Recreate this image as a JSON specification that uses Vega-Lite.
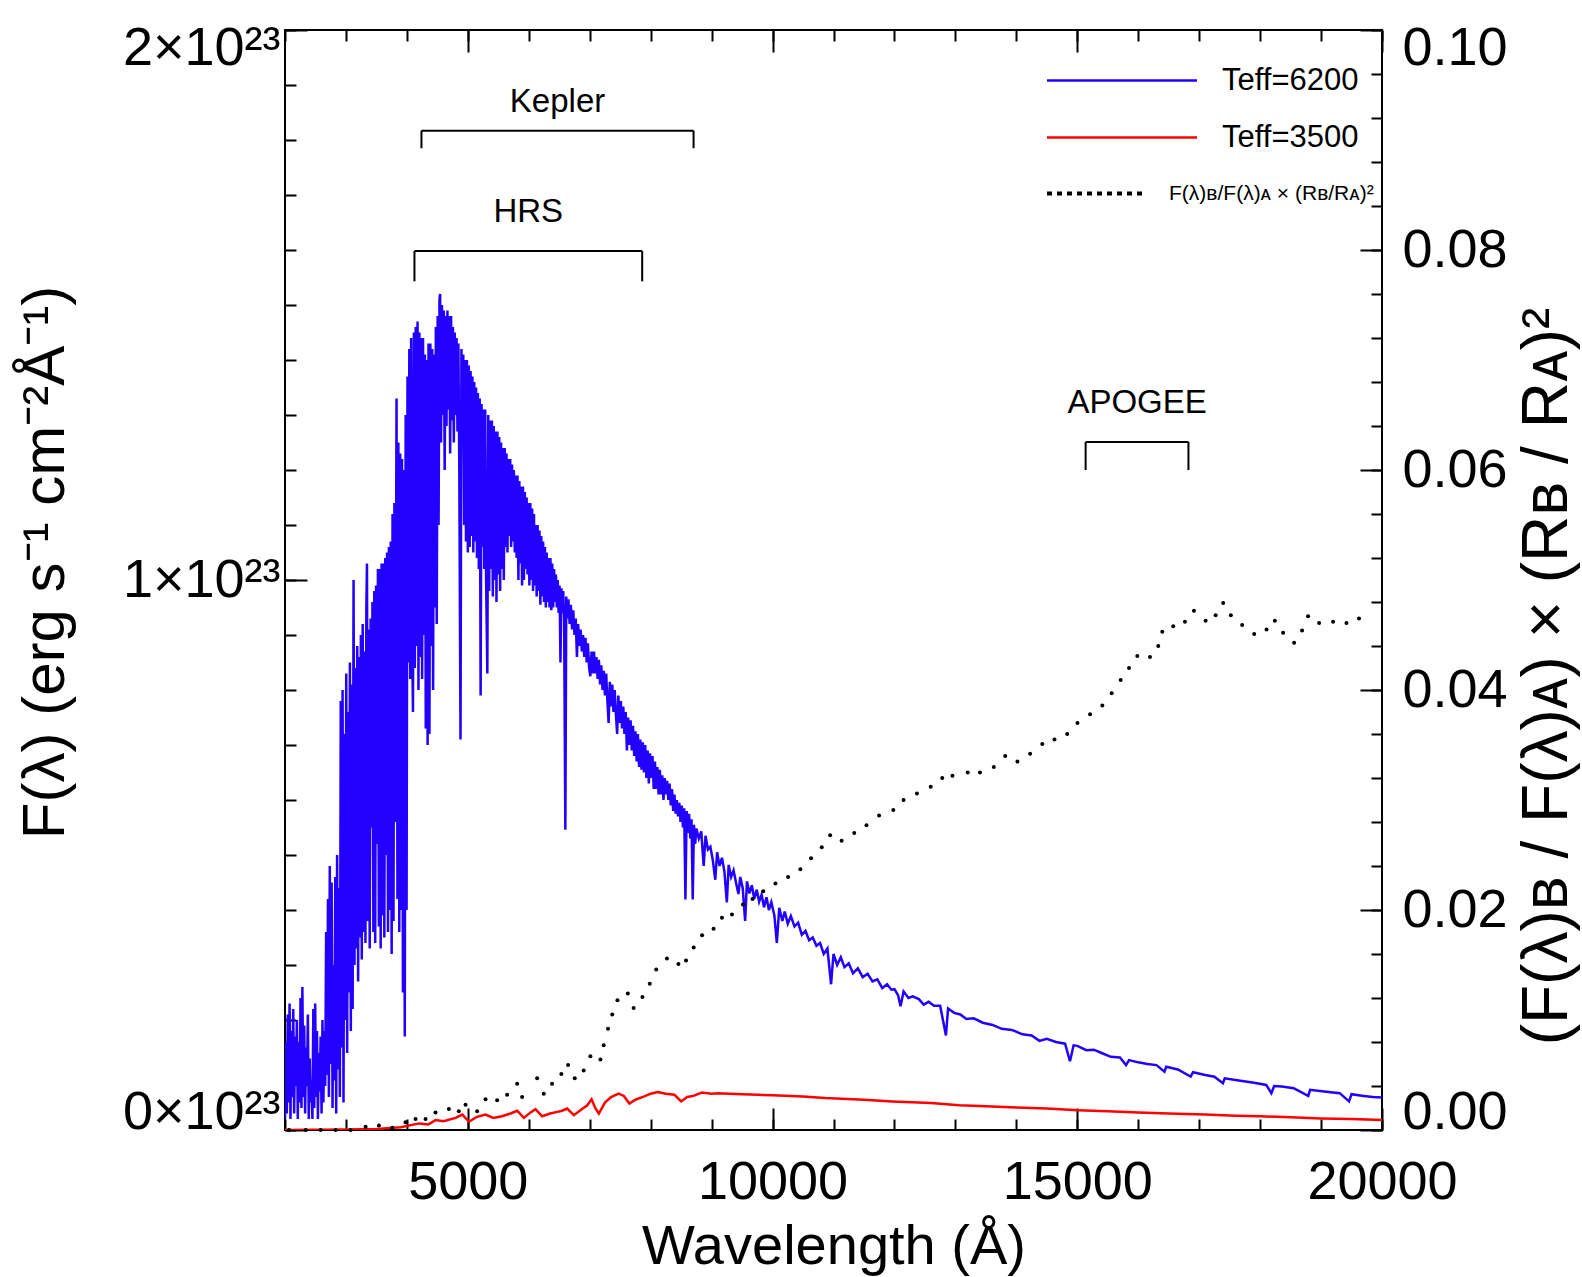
{
  "$schema": "https://vega.github.io/schema/vega-lite/v6.json",
  "width": 1097,
  "height": 1100,
  "autosize": {"type": "none"},
  "padding": {"left": 285, "top": 30, "right": 200, "bottom": 147},
  "config": {
    "view": {"stroke": "black", "strokeWidth": 2},
    "font": "Liberation Sans",
    "axis": {"domain": false, "grid": false, "tickColor": "black", "tickWidth": 2, "labelColor": "black", "titleColor": "black", "labelFont": "Liberation Sans", "titleFont": "Liberation Sans", "titleFontWeight": "normal", "labelFontSize": 54, "titleFontSize": 56}
  },
  "datasets": {
    "hot": [
      {"w":2000,"f":0.02},{"w":2010,"f":0.16},{"w":2030,"f":0.03},{"w":2045,"f":0.21},{"w":2060,"f":0.05},{"w":2075,"f":0.23},{"w":2090,"f":0.02},{"w":2105,"f":0.18},{"w":2120,"f":0.06},{"w":2135,"f":0.22},{"w":2150,"f":0.03},{"w":2165,"f":0.17},{"w":2180,"f":0.08},{"w":2195,"f":0.2},{"w":2210,"f":0.02},{"w":2225,"f":0.16},{"w":2240,"f":0.05},{"w":2255,"f":0.24},{"w":2270,"f":0.04},{"w":2285,"f":0.26},{"w":2300,"f":0.06},{"w":2315,"f":0.19},{"w":2330,"f":0.03},{"w":2345,"f":0.15},{"w":2360,"f":0.08},{"w":2375,"f":0.21},{"w":2390,"f":0.02},{"w":2405,"f":0.13},{"w":2420,"f":0.05},{"w":2435,"f":0.09},{"w":2450,"f":0.02},{"w":2465,"f":0.22},{"w":2480,"f":0.04},{"w":2495,"f":0.23},{"w":2510,"f":0.06},{"w":2525,"f":0.18},{"w":2540,"f":0.02},{"w":2555,"f":0.14},{"w":2570,"f":0.07},{"w":2585,"f":0.17},{"w":2600,"f":0.03},{"w":2615,"f":0.2},{"w":2630,"f":0.05},{"w":2645,"f":0.18},{"w":2660,"f":0.08},{"w":2675,"f":0.36},{"w":2690,"f":0.1},{"w":2705,"f":0.42},{"w":2720,"f":0.06},{"w":2735,"f":0.48},{"w":2750,"f":0.12},{"w":2765,"f":0.45},{"w":2780,"f":0.04},{"w":2795,"f":0.3},{"w":2810,"f":0.09},{"w":2825,"f":0.46},{"w":2840,"f":0.03},{"w":2855,"f":0.5},{"w":2870,"f":0.11},{"w":2885,"f":0.44},{"w":2900,"f":0.06},{"w":2915,"f":0.78},{"w":2930,"f":0.15},{"w":2945,"f":0.8},{"w":2960,"f":0.05},{"w":2975,"f":0.72},{"w":2990,"f":0.2},{"w":3005,"f":0.83},{"w":3020,"f":0.14},{"w":3035,"f":0.76},{"w":3050,"f":0.25},{"w":3065,"f":0.85},{"w":3080,"f":0.18},{"w":3095,"f":0.81},{"w":3110,"f":0.22},{"w":3125,"f":1.0},{"w":3140,"f":0.3},{"w":3155,"f":0.84},{"w":3170,"f":0.33},{"w":3185,"f":0.88},{"w":3200,"f":0.27},{"w":3215,"f":0.86},{"w":3230,"f":0.35},{"w":3245,"f":0.9},{"w":3260,"f":0.31},{"w":3275,"f":0.92},{"w":3290,"f":0.36},{"w":3305,"f":0.87},{"w":3320,"f":0.34},{"w":3335,"f":0.95},{"w":3345,"f":1.03},{"w":3360,"f":0.38},{"w":3375,"f":0.91},{"w":3390,"f":0.33},{"w":3405,"f":0.93},{"w":3420,"f":0.55},{"w":3435,"f":0.96},{"w":3450,"f":0.36},{"w":3465,"f":0.98},{"w":3480,"f":0.34},{"w":3495,"f":0.99},{"w":3510,"f":0.52},{"w":3525,"f":1.02},{"w":3540,"f":0.37},{"w":3555,"f":1.02},{"w":3570,"f":0.33},{"w":3585,"f":1.03},{"w":3600,"f":0.39},{"w":3615,"f":1.03},{"w":3630,"f":0.35},{"w":3645,"f":1.04},{"w":3660,"f":0.5},{"w":3675,"f":1.05},{"w":3690,"f":0.36},{"w":3705,"f":1.06},{"w":3720,"f":0.4},{"w":3735,"f":1.07},{"w":3750,"f":0.32},{"w":3765,"f":1.12},{"w":3780,"f":0.38},{"w":3795,"f":1.14},{"w":3810,"f":0.56},{"w":3830,"f":1.33},{"w":3845,"f":0.42},{"w":3860,"f":1.25},{"w":3875,"f":0.36},{"w":3890,"f":1.23},{"w":3905,"f":0.4},{"w":3920,"f":1.22},{"w":3935,"f":0.25},{"w":3950,"f":1.2},{"w":3965,"f":0.17},{"w":3980,"f":1.3},{"w":3995,"f":0.4},{"w":4010,"f":1.37},{"w":4025,"f":0.85},{"w":4040,"f":1.42},{"w":4055,"f":0.82},{"w":4070,"f":1.44},{"w":4085,"f":0.9},{"w":4100,"f":0.76},{"w":4115,"f":1.45},{"w":4130,"f":0.84},{"w":4145,"f":1.46},{"w":4160,"f":0.88},{"w":4175,"f":1.47},{"w":4190,"f":0.8},{"w":4205,"f":1.45},{"w":4220,"f":0.86},{"w":4235,"f":1.44},{"w":4250,"f":0.82},{"w":4265,"f":1.44},{"w":4280,"f":0.9},{"w":4295,"f":1.41},{"w":4310,"f":0.73},{"w":4325,"f":1.4},{"w":4340,"f":0.7},{"w":4355,"f":1.43},{"w":4370,"f":0.72},{"w":4385,"f":1.43},{"w":4400,"f":0.88},{"w":4415,"f":1.42},{"w":4430,"f":0.8},{"w":4445,"f":1.41},{"w":4460,"f":0.95},{"w":4475,"f":1.46},{"w":4490,"f":0.92},{"w":4505,"f":1.48},{"w":4520,"f":1.1},{"w":4535,"f":1.51},{"w":4545,"f":1.52},{"w":4560,"f":1.25},{"w":4575,"f":1.5},{"w":4590,"f":1.3},{"w":4605,"f":1.49},{"w":4620,"f":1.2},{"w":4635,"f":1.48},{"w":4650,"f":1.28},{"w":4665,"f":1.49},{"w":4680,"f":1.31},{"w":4695,"f":1.48},{"w":4710,"f":1.23},{"w":4725,"f":1.48},{"w":4740,"f":1.29},{"w":4755,"f":1.46},{"w":4770,"f":1.25},{"w":4785,"f":1.45},{"w":4800,"f":1.3},{"w":4815,"f":1.44},{"w":4830,"f":1.27},{"w":4845,"f":1.43},{"w":4860,"f":1.2},{"w":4880,"f":0.71},{"w":4895,"f":1.42},{"w":4910,"f":1.25},{"w":4925,"f":1.41},{"w":4940,"f":1.1},{"w":4955,"f":1.4},{"w":4970,"f":1.07},{"w":4985,"f":1.4},{"w":5000,"f":1.05},{"w":5015,"f":1.39},{"w":5030,"f":1.06},{"w":5045,"f":1.38},{"w":5060,"f":1.08},{"w":5075,"f":1.37},{"w":5090,"f":1.05},{"w":5105,"f":1.36},{"w":5120,"f":1.07},{"w":5135,"f":1.35},{"w":5150,"f":1.04},{"w":5165,"f":1.34},{"w":5180,"f":1.02},{"w":5195,"f":1.33},{"w":5210,"f":0.79},{"w":5225,"f":1.32},{"w":5240,"f":1.06},{"w":5255,"f":1.31},{"w":5270,"f":1.02},{"w":5285,"f":1.31},{"w":5300,"f":1.0},{"w":5320,"f":0.83},{"w":5335,"f":1.3},{"w":5350,"f":0.98},{"w":5365,"f":1.29},{"w":5380,"f":1.02},{"w":5395,"f":1.29},{"w":5410,"f":0.97},{"w":5425,"f":1.28},{"w":5440,"f":1.0},{"w":5455,"f":1.27},{"w":5470,"f":0.96},{"w":5485,"f":1.27},{"w":5500,"f":1.01},{"w":5515,"f":1.26},{"w":5530,"f":0.98},{"w":5545,"f":1.25},{"w":5560,"f":1.02},{"w":5575,"f":1.24},{"w":5590,"f":1.0},{"w":5605,"f":1.24},{"w":5620,"f":1.06},{"w":5635,"f":1.23},{"w":5650,"f":1.05},{"w":5665,"f":1.22},{"w":5680,"f":1.08},{"w":5695,"f":1.22},{"w":5710,"f":1.06},{"w":5725,"f":1.21},{"w":5740,"f":1.07},{"w":5755,"f":1.2},{"w":5770,"f":1.05},{"w":5785,"f":1.19},{"w":5800,"f":1.04},{"w":5815,"f":1.19},{"w":5830,"f":1.0},{"w":5845,"f":1.18},{"w":5860,"f":1.03},{"w":5875,"f":1.17},{"w":5890,"f":0.99},{"w":5905,"f":1.17},{"w":5920,"f":1.0},{"w":5935,"f":1.16},{"w":5950,"f":1.02},{"w":5965,"f":1.15},{"w":5980,"f":1.01},{"w":5995,"f":1.14},{"w":6010,"f":0.99},{"w":6025,"f":1.14},{"w":6040,"f":1.0},{"w":6055,"f":1.13},{"w":6070,"f":0.98},{"w":6085,"f":1.12},{"w":6100,"f":0.99},{"w":6115,"f":1.1},{"w":6130,"f":0.97},{"w":6145,"f":1.1},{"w":6160,"f":0.98},{"w":6175,"f":1.09},{"w":6190,"f":0.955},{"w":6205,"f":1.08},{"w":6220,"f":0.97},{"w":6235,"f":1.07},{"w":6250,"f":0.96},{"w":6265,"f":1.06},{"w":6280,"f":0.95},{"w":6295,"f":1.05},{"w":6310,"f":0.96},{"w":6325,"f":1.04},{"w":6340,"f":0.95},{"w":6355,"f":1.04},{"w":6370,"f":0.945},{"w":6385,"f":1.03},{"w":6400,"f":0.95},{"w":6415,"f":1.02},{"w":6430,"f":0.96},{"w":6445,"f":1.01},{"w":6460,"f":0.95},{"w":6475,"f":1.0},{"w":6490,"f":0.94},{"w":6505,"f":0.99},{"w":6520,"f":0.85},{"w":6535,"f":0.985},{"w":6550,"f":0.94},{"w":6565,"f":0.98},{"w":6580,"f":0.93},{"w":6600,"f":0.546},{"w":6615,"f":0.97},{"w":6630,"f":0.93},{"w":6650,"f":0.965},{"w":6670,"f":0.92},{"w":6690,"f":0.955},{"w":6710,"f":0.91},{"w":6730,"f":0.945},{"w":6750,"f":0.9},{"w":6770,"f":0.93},{"w":6790,"f":0.86},{"w":6810,"f":0.92},{"w":6830,"f":0.88},{"w":6850,"f":0.91},{"w":6870,"f":0.87},{"w":6890,"f":0.9},{"w":6910,"f":0.86},{"w":6930,"f":0.895},{"w":6950,"f":0.85},{"w":6970,"f":0.885},{"w":6990,"f":0.84},{"w":7010,"f":0.825},{"w":7030,"f":0.87},{"w":7050,"f":0.83},{"w":7070,"f":0.87},{"w":7090,"f":0.83},{"w":7110,"f":0.86},{"w":7130,"f":0.82},{"w":7150,"f":0.855},{"w":7170,"f":0.81},{"w":7190,"f":0.845},{"w":7210,"f":0.8},{"w":7230,"f":0.835},{"w":7250,"f":0.79},{"w":7270,"f":0.83},{"w":7290,"f":0.78},{"w":7310,"f":0.74},{"w":7330,"f":0.815},{"w":7350,"f":0.77},{"w":7370,"f":0.81},{"w":7390,"f":0.76},{"w":7410,"f":0.8},{"w":7430,"f":0.755},{"w":7450,"f":0.72},{"w":7470,"f":0.79},{"w":7490,"f":0.74},{"w":7510,"f":0.78},{"w":7530,"f":0.73},{"w":7550,"f":0.77},{"w":7570,"f":0.72},{"w":7590,"f":0.76},{"w":7610,"f":0.69},{"w":7630,"f":0.75},{"w":7650,"f":0.7},{"w":7670,"f":0.745},{"w":7690,"f":0.69},{"w":7710,"f":0.735},{"w":7730,"f":0.68},{"w":7750,"f":0.725},{"w":7770,"f":0.67},{"w":7790,"f":0.72},{"w":7810,"f":0.66},{"w":7830,"f":0.71},{"w":7850,"f":0.655},{"w":7870,"f":0.705},{"w":7890,"f":0.65},{"w":7910,"f":0.7},{"w":7930,"f":0.64},{"w":7950,"f":0.69},{"w":7970,"f":0.63},{"w":7990,"f":0.685},{"w":8010,"f":0.64},{"w":8030,"f":0.68},{"w":8050,"f":0.62},{"w":8070,"f":0.67},{"w":8090,"f":0.62},{"w":8110,"f":0.66},{"w":8130,"f":0.61},{"w":8150,"f":0.655},{"w":8170,"f":0.61},{"w":8190,"f":0.645},{"w":8210,"f":0.6},{"w":8230,"f":0.64},{"w":8250,"f":0.61},{"w":8270,"f":0.635},{"w":8290,"f":0.6},{"w":8310,"f":0.63},{"w":8330,"f":0.59},{"w":8350,"f":0.62},{"w":8370,"f":0.58},{"w":8390,"f":0.61},{"w":8410,"f":0.575},{"w":8430,"f":0.6},{"w":8450,"f":0.57},{"w":8470,"f":0.595},{"w":8490,"f":0.56},{"w":8510,"f":0.59},{"w":8530,"f":0.55},{"w":8550,"f":0.585},{"w":8570,"f":0.419},{"w":8590,"f":0.58},{"w":8610,"f":0.54},{"w":8630,"f":0.575},{"w":8650,"f":0.53},{"w":8670,"f":0.565},{"w":8690,"f":0.419},{"w":8710,"f":0.555},{"w":8730,"f":0.52},{"w":8750,"f":0.548},{"w":8790,"f":0.53},{"w":8830,"f":0.543},{"w":8870,"f":0.48},{"w":8900,"f":0.535},{"w":8940,"f":0.51},{"w":8980,"f":0.515},{"w":9020,"f":0.49},{"w":9060,"f":0.455},{"w":9090,"f":0.505},{"w":9130,"f":0.48},{"w":9170,"f":0.495},{"w":9210,"f":0.47},{"w":9250,"f":0.414},{"w":9280,"f":0.482},{"w":9320,"f":0.46},{"w":9360,"f":0.472},{"w":9400,"f":0.45},{"w":9440,"f":0.429},{"w":9470,"f":0.46},{"w":9510,"f":0.44},{"w":9550,"f":0.38},{"w":9580,"f":0.452},{"w":9620,"f":0.43},{"w":9660,"f":0.445},{"w":9700,"f":0.42},{"w":9740,"f":0.437},{"w":9780,"f":0.415},{"w":9820,"f":0.428},{"w":9860,"f":0.405},{"w":9900,"f":0.423},{"w":9940,"f":0.4},{"w":9980,"f":0.414},{"w":10030,"f":0.39},{"w":10070,"f":0.34},{"w":10110,"f":0.404},{"w":10160,"f":0.38},{"w":10200,"f":0.397},{"w":10250,"f":0.375},{"w":10300,"f":0.389},{"w":10360,"f":0.37},{"w":10420,"f":0.377},{"w":10480,"f":0.355},{"w":10540,"f":0.362},{"w":10600,"f":0.345},{"w":10660,"f":0.35},{"w":10720,"f":0.335},{"w":10780,"f":0.34},{"w":10840,"f":0.32},{"w":10900,"f":0.33},{"w":10960,"f":0.265},{"w":11000,"f":0.32},{"w":11060,"f":0.3},{"w":11120,"f":0.314},{"w":11180,"f":0.296},{"w":11250,"f":0.303},{"w":11320,"f":0.285},{"w":11400,"f":0.294},{"w":11480,"f":0.278},{"w":11560,"f":0.284},{"w":11640,"f":0.27},{"w":11720,"f":0.274},{"w":11800,"f":0.258},{"w":11880,"f":0.265},{"w":11950,"f":0.255},{"w":12000,"f":0.256},{"w":12060,"f":0.245},{"w":12100,"f":0.225},{"w":12150,"f":0.252},{"w":12230,"f":0.24},{"w":12300,"f":0.243},{"w":12400,"f":0.238},{"w":12480,"f":0.228},{"w":12560,"f":0.233},{"w":12650,"f":0.226},{"w":12750,"f":0.226},{"w":12845,"f":0.172},{"w":12880,"f":0.221},{"w":12980,"f":0.213},{"w":13080,"f":0.21},{"w":13180,"f":0.202},{"w":13300,"f":0.203},{"w":13450,"f":0.195},{"w":13610,"f":0.191},{"w":13760,"f":0.184},{"w":13925,"f":0.182},{"w":14100,"f":0.174},{"w":14250,"f":0.172},{"w":14380,"f":0.162},{"w":14500,"f":0.166},{"w":14650,"f":0.16},{"w":14800,"f":0.157},{"w":14880,"f":0.125},{"w":14940,"f":0.154},{"w":15000,"f":0.153},{"w":15150,"f":0.145},{"w":15270,"f":0.146},{"w":15400,"f":0.14},{"w":15550,"f":0.133},{"w":15700,"f":0.132},{"w":15800,"f":0.118},{"w":15850,"f":0.127},{"w":16000,"f":0.123},{"w":16150,"f":0.12},{"w":16300,"f":0.118},{"w":16430,"f":0.106},{"w":16460,"f":0.115},{"w":16650,"f":0.11},{"w":16860,"f":0.097},{"w":16900,"f":0.105},{"w":17100,"f":0.1},{"w":17250,"f":0.097},{"w":17390,"f":0.085},{"w":17420,"f":0.094},{"w":17650,"f":0.09},{"w":17900,"f":0.086},{"w":18100,"f":0.082},{"w":18185,"f":0.067},{"w":18230,"f":0.08},{"w":18356,"f":0.079},{"w":18550,"f":0.076},{"w":18790,"f":0.062},{"w":18820,"f":0.073},{"w":19050,"f":0.07},{"w":19306,"f":0.067},{"w":19459,"f":0.052},{"w":19500,"f":0.065},{"w":19700,"f":0.062},{"w":19850,"f":0.06},{"w":20000,"f":0.059}
    ],
    "cool": [
      {"w":2000,"f":0.0},{"w":2500,"f":0.0005},{"w":3000,"f":0.001},{"w":3500,"f":0.002},{"w":3900,"f":0.005},{"w":4200,"f":0.012},{"w":4350,"f":0.01},{"w":4470,"f":0.018},{"w":4600,"f":0.016},{"w":4800,"f":0.022},{"w":4910,"f":0.028},{"w":5020,"f":0.015},{"w":5150,"f":0.024},{"w":5290,"f":0.028},{"w":5420,"f":0.022},{"w":5560,"f":0.025},{"w":5700,"f":0.03},{"w":5810,"f":0.035},{"w":5920,"f":0.022},{"w":6030,"f":0.032},{"w":6110,"f":0.038},{"w":6220,"f":0.025},{"w":6350,"f":0.03},{"w":6470,"f":0.033},{"w":6546,"f":0.035},{"w":6630,"f":0.039},{"w":6740,"f":0.027},{"w":6874,"f":0.038},{"w":6960,"f":0.045},{"w":7030,"f":0.056},{"w":7090,"f":0.04},{"w":7150,"f":0.03},{"w":7250,"f":0.05},{"w":7350,"f":0.06},{"w":7475,"f":0.066},{"w":7560,"f":0.062},{"w":7650,"f":0.048},{"w":7750,"f":0.055},{"w":7895,"f":0.061},{"w":8000,"f":0.066},{"w":8115,"f":0.069},{"w":8250,"f":0.066},{"w":8390,"f":0.064},{"w":8500,"f":0.052},{"w":8600,"f":0.06},{"w":8700,"f":0.062},{"w":8840,"f":0.068},{"w":9000,"f":0.066},{"w":9104,"f":0.067},{"w":9300,"f":0.066},{"w":9500,"f":0.065},{"w":9764,"f":0.064},{"w":10000,"f":0.063},{"w":10500,"f":0.061},{"w":10863,"f":0.058},{"w":11500,"f":0.055},{"w":11962,"f":0.052},{"w":12600,"f":0.049},{"w":13061,"f":0.045},{"w":13500,"f":0.043},{"w":14000,"f":0.041},{"w":14500,"f":0.039},{"w":15011,"f":0.036},{"w":15500,"f":0.034},{"w":16000,"f":0.032},{"w":16500,"f":0.03},{"w":17091,"f":0.028},{"w":17600,"f":0.026},{"w":18000,"f":0.025},{"w":18500,"f":0.023},{"w":19000,"f":0.021},{"w":19500,"f":0.02},{"w":20000,"f":0.018}
    ],
    "ratio": [
      {"w":2066,"r":0.0},{"w":2339,"r":0.0},{"w":2585,"r":0.0},{"w":2831,"r":0.0},{"w":3077,"r":0.0},{"w":3323,"r":0.0003},{"w":3541,"r":0.0004},{"w":3760,"r":0.0002},{"w":3978,"r":0.0007},{"w":4142,"r":0.001},{"w":4306,"r":0.001},{"w":4470,"r":0.0016},{"w":4689,"r":0.0019},{"w":4852,"r":0.0017},{"w":4962,"r":0.0023},{"w":5153,"r":0.0017},{"w":5290,"r":0.0028},{"w":5481,"r":0.0027},{"w":5645,"r":0.0032},{"w":5809,"r":0.0042},{"w":5891,"r":0.003},{"w":6137,"r":0.0047},{"w":6246,"r":0.0033},{"w":6382,"r":0.0042},{"w":6535,"r":0.0051},{"w":6645,"r":0.0059},{"w":6754,"r":0.0047},{"w":6901,"r":0.0054},{"w":7011,"r":0.0067},{"w":7175,"r":0.0064},{"w":7229,"r":0.0077},{"w":7300,"r":0.0092},{"w":7370,"r":0.0105},{"w":7455,"r":0.0118},{"w":7625,"r":0.0124},{"w":7720,"r":0.0111},{"w":7865,"r":0.0121},{"w":7985,"r":0.0133},{"w":8091,"r":0.0146},{"w":8267,"r":0.0156},{"w":8455,"r":0.0151},{"w":8580,"r":0.0154},{"w":8706,"r":0.0166},{"w":8844,"r":0.0177},{"w":9032,"r":0.0183},{"w":9170,"r":0.0193},{"w":9334,"r":0.0196},{"w":9514,"r":0.0205},{"w":9671,"r":0.021},{"w":9847,"r":0.0217},{"w":10048,"r":0.0224},{"w":10255,"r":0.023},{"w":10456,"r":0.0237},{"w":10632,"r":0.0247},{"w":10807,"r":0.0257},{"w":10945,"r":0.0268},{"w":11133,"r":0.0263},{"w":11340,"r":0.027},{"w":11541,"r":0.0277},{"w":11748,"r":0.0286},{"w":11981,"r":0.0291},{"w":12150,"r":0.03},{"w":12369,"r":0.0306},{"w":12595,"r":0.0312},{"w":12784,"r":0.032},{"w":12952,"r":0.0322},{"w":13203,"r":0.0325},{"w":13403,"r":0.0325},{"w":13630,"r":0.033},{"w":13818,"r":0.034},{"w":14018,"r":0.0335},{"w":14226,"r":0.0342},{"w":14426,"r":0.0351},{"w":14626,"r":0.0355},{"w":14834,"r":0.036},{"w":15003,"r":0.037},{"w":15210,"r":0.0378},{"w":15411,"r":0.0386},{"w":15565,"r":0.0397},{"w":15712,"r":0.0409},{"w":15849,"r":0.042},{"w":15985,"r":0.0431},{"w":16193,"r":0.043},{"w":16329,"r":0.044},{"w":16395,"r":0.0453},{"w":16575,"r":0.0458},{"w":16767,"r":0.0462},{"w":16914,"r":0.0472},{"w":17106,"r":0.0463},{"w":17270,"r":0.0468},{"w":17394,"r":0.0479},{"w":17520,"r":0.0468},{"w":17706,"r":0.0459},{"w":17903,"r":0.0451},{"w":18106,"r":0.0455},{"w":18242,"r":0.0463},{"w":18378,"r":0.0452},{"w":18558,"r":0.0443},{"w":18689,"r":0.0454},{"w":18787,"r":0.0467},{"w":18968,"r":0.0461},{"w":19197,"r":0.0462},{"w":19417,"r":0.0461},{"w":19623,"r":0.0465}
    ],
    "brackets": [
      {"band":"Kepler","lo":4239,"hi":8704,"mid":6472,"bar":1.817,"foot":1.785,"ty":1.87},
      {"band":"HRS","lo":4124,"hi":7861,"mid":5992,"bar":1.598,"foot":1.543,"ty":1.67},
      {"band":"APOGEE","lo":15137,"hi":16824,"mid":15981,"bar":1.251,"foot":1.2,"ty":1.321}
    ]
  },
  "layer": [
    {
      "data": {"name": "hot"},
      "mark": {"type": "line", "strokeWidth": 2.5, "clip": true},
      "encoding": {
        "x": {"field": "w", "type": "quantitative", "scale": {"domain": [2000, 20000], "nice": false, "zero": false},
          "axis": {"orient": "bottom", "values": [5000, 10000, 15000, 20000], "format": "d", "tickSize": -22, "labelPadding": 47, "labelFlush": false, "title": "Wavelength (Å)", "titlePadding": 10}},
        "y": {"field": "f", "type": "quantitative", "scale": {"domain": [0, 2], "nice": false, "zero": false},
          "axis": {"orient": "left", "values": [0, 1, 2], "tickSize": -22, "labelPadding": 27, "labelFlush": true, "labelFlushOffset": 9, "labelExpr": "datum.value + '×10²³'", "title": "F(λ) (erg s⁻¹ cm⁻²Å⁻¹)", "titleFontSize": 60, "titlePadding": 46, "titleY": 532}},
        "color": {"datum": "Teff=6200", "type": "nominal",
          "scale": {"domain": ["Teff=6200", "Teff=3500", "ratio"], "range": ["#2200ff", "#ff0000", "#000000"]},
          "legend": {"title": null, "orient": "none", "legendX": 759, "legendY": 35, "padding": 0,
            "symbolType": "M-1,0H11", "symbolSize": 625, "symbolStrokeWidth": 2.5,
            "labelFont": "Liberation Sans", "labelFontSize": 31, "labelColor": "black", "labelOffset": 147, "labelLimit": 500, "rowPadding": 25,
            "labelExpr": "datum.value === 'ratio' ? 'F(λ)ʙ/F(λ)ᴀ × (Rʙ/Rᴀ)²' : datum.value",
            "encode": {
              "symbols": {"update": {"stroke": {"scale": "color", "field": "value"}, "strokeDash": {"signal": "datum.value === 'ratio' ? [5, 5] : [1, 0]"}, "strokeWidth": {"signal": "datum.value === 'ratio' ? 4 : 2.5"}, "shape": {"signal": "datum.value === 'ratio' ? 'M-1,0H7' : 'M-1,0H11'"}}},
              "labels": {"update": {"fontSize": {"signal": "datum.value === 'ratio' ? 21 : 31"}, "dx": {"signal": "datum.value === 'ratio' ? -53 : 0"}}}
            }}}
      }
    },
    {
      "data": {"name": "cool"},
      "mark": {"type": "line", "strokeWidth": 2.5, "clip": true},
      "encoding": {
        "x": {"field": "w", "type": "quantitative", "scale": {"domain": [2000, 20000], "nice": false, "zero": false},
          "axis": {"orient": "bottom", "values": [2000,3000,4000,5000,6000,7000,8000,9000,10000,11000,12000,13000,14000,15000,16000,17000,18000,19000,20000], "tickSize": -11, "labels": false, "title": null}},
        "y": {"field": "f", "type": "quantitative", "scale": {"domain": [0, 2], "nice": false, "zero": false},
          "axis": {"orient": "left", "values": [0,0.1,0.2,0.3,0.4,0.5,0.6,0.7,0.8,0.9,1,1.1,1.2,1.3,1.4,1.5,1.6,1.7,1.8,1.9,2], "tickSize": -11, "labels": false, "title": null}},
        "color": {"datum": "Teff=3500", "type": "nominal"}
      }
    },
    {
      "data": {"name": "brackets"},
      "mark": {"type": "rule", "color": "black", "strokeWidth": 2},
      "encoding": {
        "x": {"field": "lo", "type": "quantitative", "scale": {"domain": [2000, 20000], "nice": false, "zero": false},
          "axis": {"orient": "top", "values": [5000, 10000, 15000, 20000], "tickSize": -22, "labels": false, "title": null}},
        "x2": {"field": "hi"},
        "y": {"field": "bar", "type": "quantitative", "scale": {"domain": [0, 2], "nice": false, "zero": false},
          "axis": {"orient": "right", "values": [0,0.08,0.16,0.24,0.32,0.4,0.48,0.56,0.64,0.72,0.8,0.88,0.96,1.04,1.12,1.2,1.28,1.36,1.44,1.52,1.6,1.68,1.76,1.84,1.92,2], "tickSize": -11, "labels": false, "title": null}}
      }
    },
    {
      "data": {"name": "brackets"},
      "mark": {"type": "rule", "color": "black", "strokeWidth": 2},
      "encoding": {
        "x": {"field": "lo", "type": "quantitative", "scale": {"domain": [2000, 20000], "nice": false, "zero": false},
          "axis": {"orient": "top", "values": [2000,3000,4000,5000,6000,7000,8000,9000,10000,11000,12000,13000,14000,15000,16000,17000,18000,19000,20000], "tickSize": -11, "labels": false, "title": null}},
        "y": {"field": "bar", "type": "quantitative", "scale": {"domain": [0, 2], "nice": false, "zero": false}, "axis": null},
        "y2": {"field": "foot"}
      }
    },
    {
      "data": {"name": "brackets"},
      "mark": {"type": "rule", "color": "black", "strokeWidth": 2},
      "encoding": {
        "x": {"field": "hi", "type": "quantitative", "scale": {"domain": [2000, 20000], "nice": false, "zero": false}, "axis": null},
        "y": {"field": "bar", "type": "quantitative", "scale": {"domain": [0, 2], "nice": false, "zero": false}, "axis": null},
        "y2": {"field": "foot"}
      }
    },
    {
      "data": {"name": "brackets"},
      "mark": {"type": "text", "font": "Liberation Sans", "fontSize": 33, "color": "black", "align": "center", "baseline": "middle"},
      "encoding": {
        "x": {"field": "mid", "type": "quantitative", "scale": {"domain": [2000, 20000], "nice": false, "zero": false}, "axis": null},
        "y": {"field": "ty", "type": "quantitative", "scale": {"domain": [0, 2], "nice": false, "zero": false}, "axis": null},
        "text": {"field": "band"}
      }
    },
    {
      "data": {"name": "ratio"},
      "mark": {"type": "point", "filled": true, "size": 16, "opacity": 1},
      "encoding": {
        "x": {"field": "w", "type": "quantitative", "scale": {"domain": [2000, 20000], "nice": false, "zero": false}, "axis": null},
        "y": {"field": "r", "type": "quantitative", "scale": {"domain": [0, 0.1], "nice": false, "zero": false},
          "axis": {"orient": "right", "values": [0, 0.02, 0.04, 0.06, 0.08, 0.1], "format": ".2f", "tickSize": -22, "labelPadding": 42, "labelFlush": true, "labelFlushOffset": 9,
            "title": "(F(λ)ʙ / F(λ)ᴀ) × (Rʙ / Rᴀ)²", "titleAngle": 270, "titleBaseline": "top", "titlePadding": 8, "titleFontSize": 64, "titleY": 646}},
        "color": {"datum": "ratio", "type": "nominal"}
      }
    }
  ],
  "resolve": {"scale": {"y": "independent"}, "axis": {"x": "independent", "y": "independent"}}
}
